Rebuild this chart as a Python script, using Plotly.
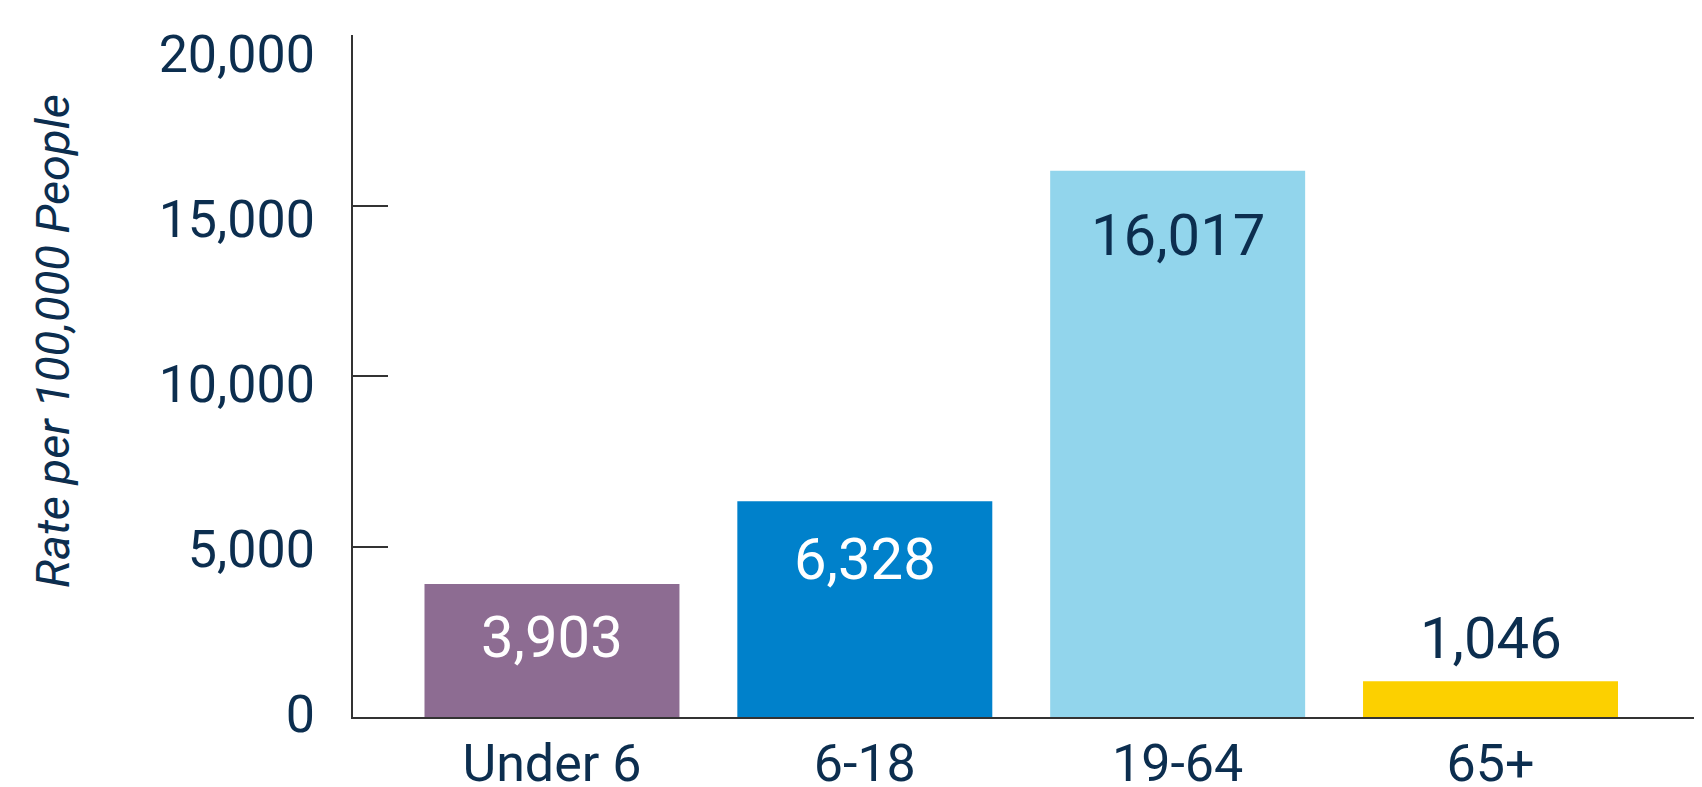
import plotly.graph_objects as go

categories = ["Under 6", "6-18", "19-64", "65+"]
values = [3903, 6328, 16017, 1046]
value_labels = ["3,903", "6,328", "16,017", "1,046"]
y_ticks = [0, 5000, 10000, 15000, 20000]
y_tick_labels = ["0", "5,000", "10,000", "15,000", "20,000"]

bar_colors = ["#8D6C92", "#0081CB", "#92D5EC", "#FCD000"]
label_colors = ["#FFFFFF", "#FFFFFF", "#0C2E4F", "#0C2E4F"]
label_shifts = [-53, -58, -64, 43]
NAVY = "#0C2E4F"
AXIS = "#333333"

# page has an 8px body margin; figure sized so it fills the 1702x787 window
W, H = 1694, 779
L, T, B = 345, 27, 70

fig = go.Figure()
fig.add_trace(go.Bar(
    x=categories, y=values,
    marker=dict(color=bar_colors, line=dict(width=0)),
    hoverinfo="skip",
))
# companion axis carrying the tick labels (set slightly apart from the tick marks, as in the original)
fig.add_trace(go.Scatter(x=[], y=[], yaxis="y2", showlegend=False, hoverinfo="skip"))

for c, v, t, col, sh in zip(categories, values, value_labels, label_colors, label_shifts):
    fig.add_annotation(x=c, y=v, text=t, showarrow=False, yshift=sh,
                       xanchor="center", yanchor="middle",
                       font=dict(family="Roboto", size=58, color=col))

plot_h = H - T - B
fig.add_annotation(xref="paper", yref="paper", x=(44 - L) / (W - L), y=(H - B - (341 - 8)) / plot_h,
                   text="Rate per 100,000 People", textangle=-90, showarrow=False,
                   xanchor="center", yanchor="middle",
                   font=dict(family="Roboto", size=47, color=NAVY, style="italic"))

fig.update_layout(
    width=W, height=H,
    margin=dict(l=L, r=0, t=T, b=B, autoexpand=False),
    paper_bgcolor="white", plot_bgcolor="white",
    bargap=0.185,
    showlegend=False,
    xaxis=dict(
        range=[-0.636, 3.676],
        showline=True, linecolor=AXIS, linewidth=2,
        showgrid=False, zeroline=False, ticks="",
        tickfont=dict(family="Roboto", size=52, color=NAVY),
        ticklabelstandoff=0, automargin=False, ticklabeloverflow="allow",
    ),
    yaxis=dict(
        range=[0, 20000],
        tickvals=y_ticks,
        showticklabels=False,
        showline=True, linecolor=AXIS, linewidth=2,
        showgrid=False, zeroline=False,
        ticks="inside", ticklen=35, tickwidth=2, tickcolor=AXIS,
        automargin=False,
    ),
    yaxis2=dict(
        overlaying="y", anchor="x", side="left",
        range=[-106, 20569],
        tickvals=y_ticks, ticktext=y_tick_labels,
        showline=False, showgrid=False, zeroline=False, ticks="",
        tickfont=dict(family="Roboto", size=52, color=NAVY),
        ticklabelstandoff=37, automargin=False, ticklabeloverflow="allow",
    ),
)

fig.write_html("out.html")
